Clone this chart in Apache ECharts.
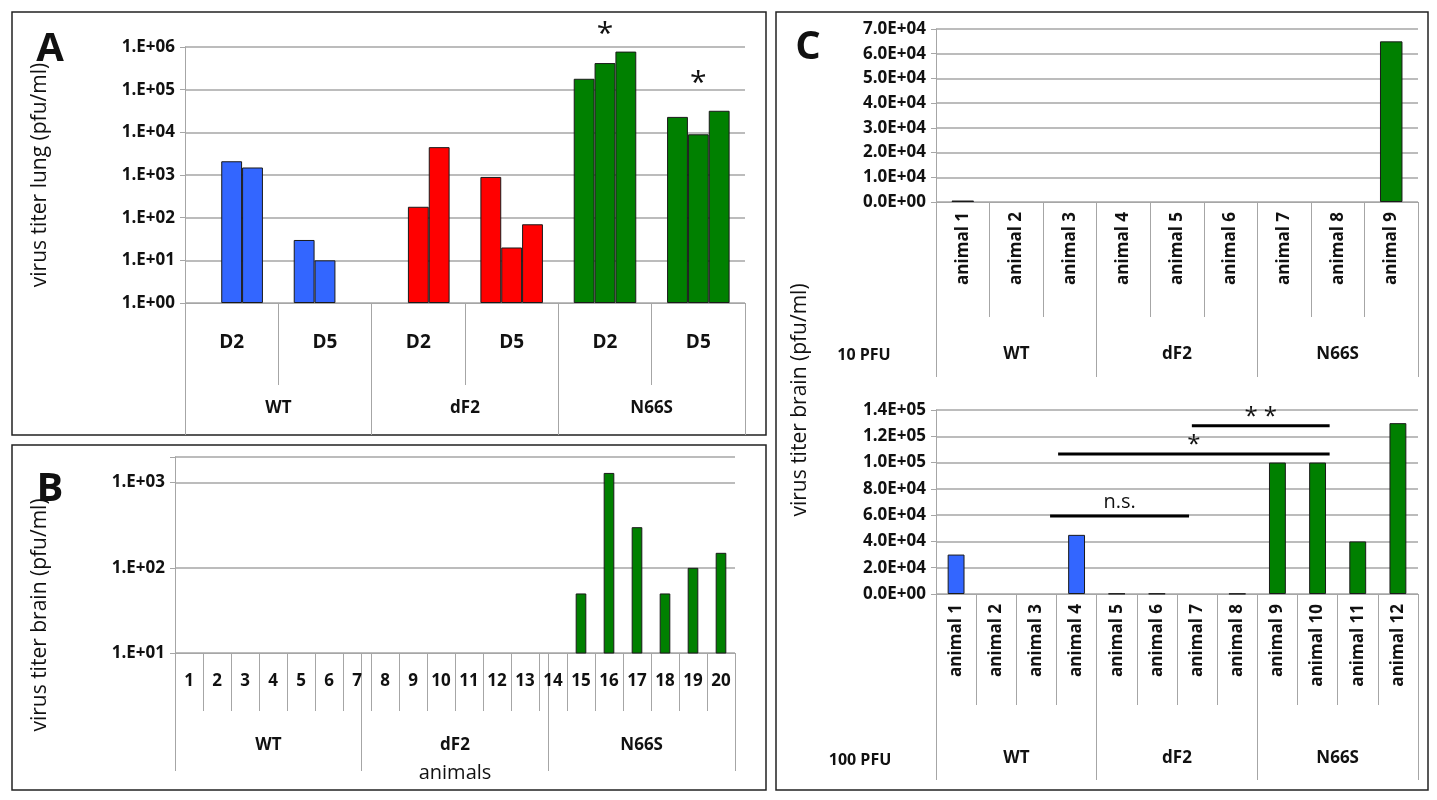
<!DOCTYPE html>
<html><head><meta charset="utf-8">
<script src="https://cdn.jsdelivr.net/npm/echarts@6/dist/echarts.min.js"></script>
<style>html,body{margin:0;padding:0;background:#fff}#c{width:1437px;height:800px}</style>
</head><body><div id="c"></div>
<script>
// ---- data ----
const aCats = ['D2','D5','D2','D5','D2','D5'];
const aGroups = ['WT','dF2','N66S'];
const aBar1 = [null, 30, null, 900, 180000, 23000];
const aBar2 = [2100, 10, 180, 20, 420000, 9000];
const aBar3 = [1500, null, 4500, 70, 780000, 32000];
const bCats = ['1','2','3','4','5','6','7','8','9','10','11','12','13','14','15','16','17','18','19','20'];
const bGroups = ['WT','dF2','N66S'];
const bValues = [null,null,null,null,null,null,null,null,null,null,null,null,null,null,50,1300,300,50,100,150];
const c1Cats = ['animal 1','animal 2','animal 3','animal 4','animal 5','animal 6','animal 7','animal 8','animal 9'];
const c1Groups = ['WT','dF2','N66S'];
const c1Values = [600,null,null,null,null,null,null,null,65000];
const c2Cats = ['animal 1','animal 2','animal 3','animal 4','animal 5','animal 6','animal 7','animal 8','animal 9','animal 10','animal 11','animal 12'];
const c2Groups = ['WT','dF2','N66S'];
const c2Values = [30000,null,null,45000,300,300,null,200,100000,100000,40000,130000];

const BLUE='#3366ff', RED='#ff0000', GREEN='#008000', EDGE='#1a1a1a', GRIDC='#a6a6a6';
const aColors=[BLUE,BLUE,RED,RED,GREEN,GREEN];
const bColors=bCats.map((c,i)=> i<6?BLUE:(i<13?RED:GREEN));
const c1Colors=c1Cats.map((c,i)=> i<3?BLUE:(i<6?RED:GREEN));
const c2Colors=c2Cats.map((c,i)=> i<4?BLUE:(i<8?RED:GREEN));
const FONT='"Open Sans", sans-serif';

function logFmt(v){const e=Math.round(Math.log10(v));return '1.E+'+String(e).padStart(2,'0');}
function sciFmt(v){if(v===0)return '0.0E+00';const e=Math.floor(Math.log10(v));const m=v/Math.pow(10,e);return m.toFixed(1)+'E+'+String(e).padStart(2,'0');}

function innerX(gi,cats,len,margin,bold,size,rotate){
  return {type:'category',gridIndex:gi,data:cats,position:'bottom',
    axisLine:{show:true,lineStyle:{color:GRIDC}},axisTick:{show:true,interval:0,length:len,lineStyle:{color:GRIDC}},
    axisLabel:{interval:0,margin:margin,rotate:rotate||0,color:'#111',fontFamily:FONT,fontWeight:bold?'bold':'normal',fontSize:size}};
}
function groupX(gi,cats,len,margin){
  return {type:'category',gridIndex:gi,data:cats,position:'bottom',
    axisLine:{show:false},axisTick:{show:true,interval:0,length:len,lineStyle:{color:GRIDC}},
    axisLabel:{interval:0,margin:margin,color:'#111',fontFamily:FONT,fontWeight:'bold',fontSize:17}};
}
function yAx(gi,type,min,max,fmt,interval){
  const o={type:type,gridIndex:gi,min:min,max:max,
    axisLine:{show:true,lineStyle:{color:GRIDC}},axisTick:{show:true,length:5,lineStyle:{color:GRIDC}},
    splitLine:{lineStyle:{color:GRIDC,width:1.5}},
    axisLabel:{formatter:fmt,color:'#111',fontFamily:FONT,fontWeight:'bold',fontSize:17,margin:10}};
  if(interval)o.interval=interval;
  return o;
}
function colored(vals,cols){return vals.map((v,i)=>v==null?null:{value:v,itemStyle:{color:cols[i]}});}
const edge={borderColor:EDGE,borderWidth:1};

const option={
  animation:false,
  grid:[
    {left:185,top:47,width:560,height:256},
    {left:175,top:457,width:560,height:196},
    {left:936,top:29,width:482,height:173},
    {left:936,top:410,width:482,height:184}
  ],
  xAxis:[
    innerX(0,aCats,82,30,true,19),
    groupX(0,aGroups,132,97),
    innerX(1,bCats,58,20,true,17),
    groupX(1,bGroups,118,84),
    innerX(2,c1Cats,115,10,true,17,90),
    groupX(2,c1Groups,175,144),
    innerX(3,c2Cats,111,10,true,17,90),
    groupX(3,c2Groups,186,156)
  ],
  yAxis:[
    yAx(0,'log',1,1000000,logFmt),
    yAx(1,'log',10,2000,function(v){const e=Math.log10(v);return Math.abs(e-Math.round(e))<1e-6?logFmt(v):'';}),
    yAx(2,'value',0,70000,sciFmt,10000),
    yAx(3,'value',0,140000,sciFmt,20000)
  ],
  series:[
    {type:'bar',xAxisIndex:0,yAxisIndex:0,data:colored(aBar1,aColors),barGap:'0%',barCategoryGap:'33%',itemStyle:edge},
    {type:'bar',xAxisIndex:0,yAxisIndex:0,data:colored(aBar2,aColors),barGap:'0%',barCategoryGap:'33%',itemStyle:edge},
    {type:'bar',xAxisIndex:0,yAxisIndex:0,data:colored(aBar3,aColors),barGap:'0%',barCategoryGap:'33%',itemStyle:edge},
    {type:'bar',xAxisIndex:2,yAxisIndex:1,data:colored(bValues,bColors),barCategoryGap:'62%',itemStyle:edge},
    {type:'bar',xAxisIndex:4,yAxisIndex:2,data:colored(c1Values,c1Colors),barCategoryGap:'58%',itemStyle:edge},
    {type:'bar',xAxisIndex:6,yAxisIndex:3,data:colored(c2Values,c2Colors),barCategoryGap:'58%',itemStyle:edge}
  ]
};
const chart=echarts.init(document.getElementById('c'),null,{renderer:'canvas'});
chart.setOption(option);

function px(xi,yi,idx,val){return chart.convertToPixel({xAxisIndex:xi,yAxisIndex:yi},[idx,val]);}
const g=[];
const txt=(x,y,t,size,w)=>({type:'text',x:x,y:y,style:{text:t,font:(w||'normal')+' '+size+'px '+FONT,fill:'#111',textAlign:'center',textVerticalAlign:'middle'}});
[[12,12,754,423],[12,445,754,345],[776,12,652,778]].forEach(r=>g.push({type:'rect',shape:{x:r[0],y:r[1],width:r[2],height:r[3]},style:{fill:'none',stroke:'#222',lineWidth:1.5}}));
g.push(txt(50,50,'A',40,'bold'));
g.push(txt(50,490,'B',40,'bold'));
g.push(txt(808,48,'C',40,'bold'));
const rot=(x,y,t)=>({type:'text',x:x,y:y,rotation:Math.PI/2,style:{text:t,font:'21px '+FONT,fill:'#111',textAlign:'center',textVerticalAlign:'middle'}});
g.push(rot(40,175,'virus titer lung (pfu/ml)'));
g.push(rot(40,615,'virus titer brain (pfu/ml)'));
g.push(rot(800,400,'virus titer brain (pfu/ml)'));
g.push(txt(455,773,'animals',20));
g.push(txt(864,355,'10 PFU',16,'bold'));
g.push(txt(860,760,'100 PFU',16,'bold'));
let p=px(0,0,4,2500000); g.push(txt(p[0],p[1]+4,'*',30));
p=px(0,0,5,170000); g.push(txt(p[0],p[1]+4,'*',30));
const p0=px(6,3,0,0), p1=px(6,3,1,0); const step=p1[0]-p0[0];
function sig(f1,f2,val,label,lsize){
  const y=chart.convertToPixel({yAxisIndex:3},val);
  const x1=p0[0]+f1*step, x2=p0[0]+f2*step;
  g.push({type:'line',shape:{x1:x1,y1:y,x2:x2,y2:y},style:{stroke:'#000',lineWidth:3}});
  g.push(txt((x1+x2)/2,y-(label==='n.s.'?14:9),label,lsize||20));
}
sig(2.34,5.8,59300,'n.s.',20);
sig(2.54,9.3,106500,'*',24);
sig(5.87,9.3,128000,'* *',24);
chart.setOption({graphic:g});
</script></body></html>
